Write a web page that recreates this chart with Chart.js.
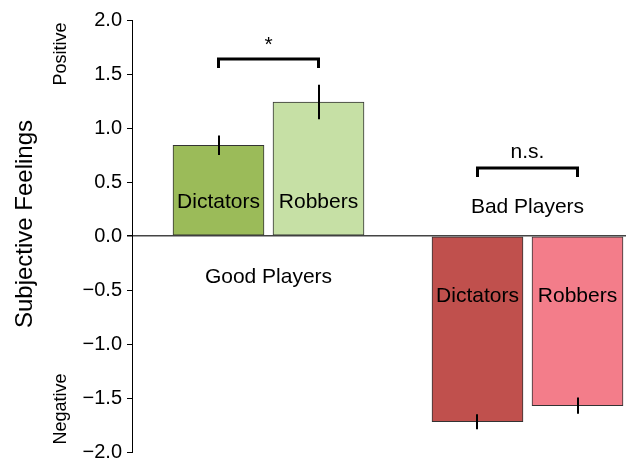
<!DOCTYPE html>
<html>
<head>
<meta charset="utf-8">
<script src="https://cdn.jsdelivr.net/npm/chart.js@4.4.0/dist/chart.umd.min.js"></script>
<style>
  html, body { margin: 0; padding: 0; background: #fff; }
  #wrap { width: 626px; height: 459px; position: relative; }
</style>
</head>
<body>
<div id="wrap"><canvas id="c" width="626" height="459"></canvas></div>
<script>
// ---- Data ----
const groups = ['Good Players', 'Bad Players'];
const roles = ['Dictators', 'Robbers'];
const goodValues = [0.84, 1.24];
const goodErrors = [0.09, 0.16];
const badValues = [-1.72, -1.57];
const badErrors = [0.07, 0.075];
const significance = ['*', 'n.s.'];
const yTicks = [-2.0, -1.5, -1.0, -0.5, 0.0, 0.5, 1.0, 1.5, 2.0];

// ---- Styling / layout ----
const FONT = "'Liberation Sans', Arial, sans-serif";
const colors = [['#9bbb59', '#c6e0a5'], ['#c0504d', '#f37d8a']];
const GROUP_STEP = 2.59; // distance between group starts (in bar units)
const FIRST = 0.865;

const allValues = [goodValues, badValues];
const allErrors = [goodErrors, badErrors];
const points = [], bg = [], errs = [];
groups.forEach((g, gi) => {
  roles.forEach((r, ri) => {
    points.push({ x: FIRST + gi * GROUP_STEP + ri, y: allValues[gi][ri] });
    bg.push(colors[gi][ri]);
    errs.push(allErrors[gi][ri]);
  });
});

const fmt = v => {
  const s = Math.abs(v).toFixed(1);
  return v < 0 ? '\u2212' + s : s;
};

const annot = {
  id: 'annot',
  afterDatasetsDraw(chart) {
    const ctx = chart.ctx;
    const ys = chart.scales.y;
    const meta = chart.getDatasetMeta(0);
    ctx.save();
    // error bars
    ctx.strokeStyle = '#000';
    ctx.lineWidth = 2;
    points.forEach((p, i) => {
      const px = Math.round(meta.data[i].x);
      ctx.beginPath();
      ctx.moveTo(px, ys.getPixelForValue(p.y + errs[i]));
      ctx.lineTo(px, ys.getPixelForValue(p.y - errs[i]));
      ctx.stroke();
    });
    // bar labels
    ctx.fillStyle = '#000';
    ctx.textAlign = 'center';
    ctx.textBaseline = 'middle';
    ctx.font = '21px ' + FONT;
    points.forEach((p, i) => {
      const gi = Math.floor(i / 2), ri = i % 2;
      const yv = gi === 0 ? 0.31 : -0.56;
      ctx.fillText(roles[ri], meta.data[i].x, ys.getPixelForValue(yv));
    });
    // group labels, brackets, significance
    groups.forEach((g, gi) => {
      const x0 = meta.data[gi * 2].x, x1 = meta.data[gi * 2 + 1].x;
      const cx = (x0 + x1) / 2;
      ctx.font = '21px ' + FONT;
      const labelV = gi === 0 ? -0.38 : 0.27;
      ctx.fillText(g, cx, ys.getPixelForValue(labelV));
      const topV = gi === 0 ? 1.64 : 0.63;
      const by = ys.getPixelForValue(topV);
      ctx.lineWidth = 3;
      ctx.beginPath();
      ctx.moveTo(x0, by + 9);
      ctx.lineTo(x0, by);
      ctx.lineTo(x1, by);
      ctx.lineTo(x1, by + 9);
      ctx.stroke();
      ctx.font = '21px ' + FONT;
      ctx.fillText(significance[gi], cx, by - (gi === 0 ? 14 : 16));
    });
    // y axis titles
    ctx.save();
    ctx.translate(25, 224);
    ctx.rotate(-Math.PI / 2);
    ctx.font = '24px ' + FONT;
    ctx.fillText('Subjective Feelings', 0, 0);
    ctx.restore();
    ctx.save();
    ctx.translate(61, 54);
    ctx.rotate(-Math.PI / 2);
    ctx.font = '18px ' + FONT;
    ctx.fillText('Positive', 0, 0);
    ctx.restore();
    ctx.save();
    ctx.translate(61, 409);
    ctx.rotate(-Math.PI / 2);
    ctx.font = '18px ' + FONT;
    ctx.fillText('Negative', 0, 0);
    ctx.restore();
    ctx.restore();
  }
};

new Chart(document.getElementById('c'), {
  type: 'bar',
  data: {
    datasets: [{
      data: points,
      backgroundColor: bg,
      borderColor: '#333',
      borderWidth: 1,
      borderSkipped: false,
      barThickness: 91
    }]
  },
  options: {
    responsive: false,
    animation: false,
    events: [],
    layout: { padding: { top: 20, bottom: 7, left: 0, right: 0 } },
    plugins: { legend: { display: false }, tooltip: { enabled: false } },
    scales: {
      x: {
        type: 'linear',
        min: 0,
        max: 4.94,
        offset: false,
        display: false
      },
      y: {
        min: -2,
        max: 2,
        afterBuildTicks(scale) { scale.ticks = yTicks.map(v => ({ value: v })); },
        afterFit(scale) {
          scale.width = 132;
          scale.paddingTop = 0;
          scale.paddingBottom = 0;
        },
        ticks: {
          color: '#000',
          font: { family: FONT, size: 20 },
          padding: 5,
          callback: v => fmt(v)
        },
        border: { display: true, color: '#000', width: 1 },
        grid: {
          drawOnChartArea: true,
          color: c => (c.tick && c.tick.value === 0) ? '#444' : 'rgba(0,0,0,0)',
          lineWidth: c => (c.tick && c.tick.value === 0) ? 1.5 : 1,
          tickColor: '#000',
          tickLength: 5
        }
      }
    }
  },
  plugins: [annot]
});
</script>
</body>
</html>
